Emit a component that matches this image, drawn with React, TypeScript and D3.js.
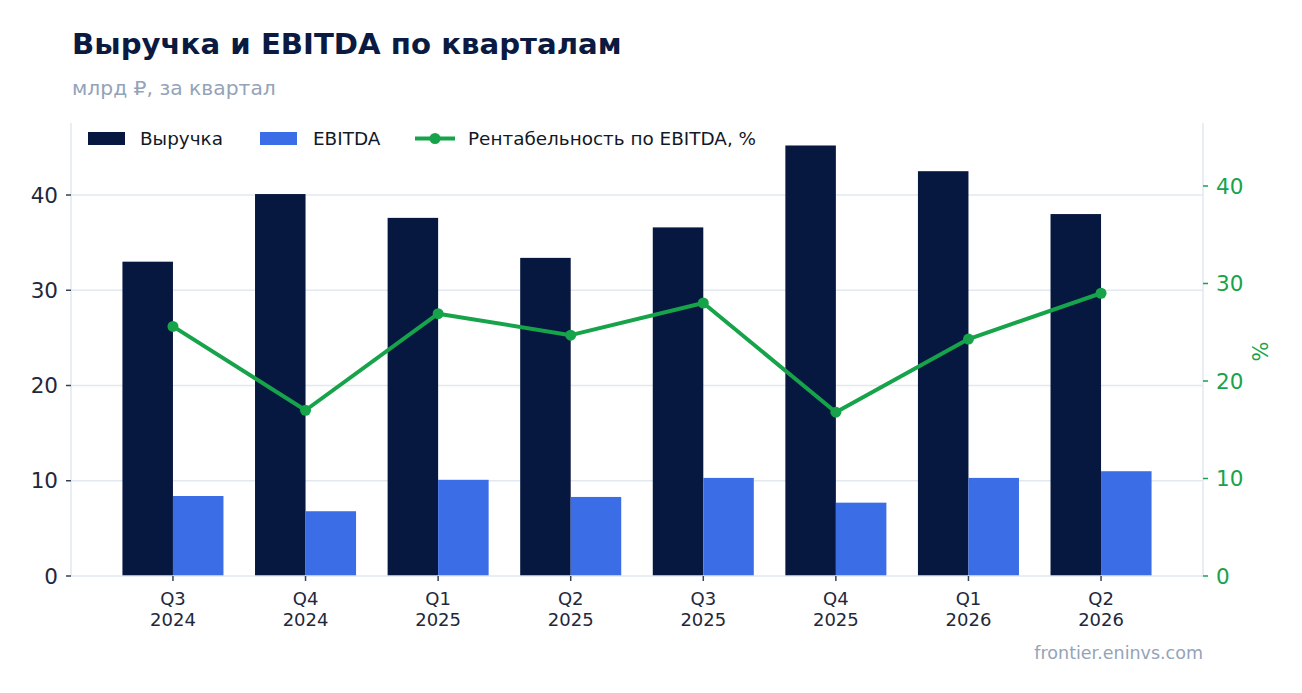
import { useEffect, useRef } from 'react'
import * as d3 from 'd3'

const quarters = ['Q3|2024', 'Q4|2024', 'Q1|2025', 'Q2|2025', 'Q3|2025', 'Q4|2025', 'Q1|2026', 'Q2|2026']
const revenue = [33.0, 40.1, 37.6, 33.4, 36.6, 45.2, 42.5, 38.0]
const ebitda = [8.4, 6.8, 10.1, 8.3, 10.3, 7.7, 10.3, 11.0]
const margin = [25.6, 17.0, 26.9, 24.7, 28.0, 16.8, 24.3, 29.0]
const leftTicks = [0, 10, 20, 30, 40]
const rightTicks = [0, 10, 20, 30, 40]

const W = 1302
const H = 693
const FONT = 'DejaVu Sans, sans-serif'
const NAVY = '#061740'
const BLUE = '#3b6ee6'
const GREEN = '#16a34a'
const GRID = '#e2e8f0'
const MUTED = '#94a3b8'

export default function App() {
  const svgRef = useRef<SVGSVGElement>(null)

  useEffect(() => {
    if (!svgRef.current) return
    const svg = d3.select(svgRef.current)
    svg.selectAll('*').remove()

    const plot = { left: 71, right: 1203, top: 123, bottom: 576 }

    const x = d3.scaleBand<string>()
      .domain(quarters)
      .range([plot.left, plot.right])
      .paddingInner(0.238)
      .paddingOuter(0.388)
    const sub = d3.scaleBand<string>()
      .domain(['rev', 'ebitda'])
      .range([0, x.bandwidth()])
    const y = d3.scaleLinear().domain([0, 47.56]).range([plot.bottom, plot.top])
    const y2 = d3.scaleLinear().domain([0, 46.46]).range([plot.bottom, plot.top])

    // grid
    svg.append('g')
      .selectAll('line')
      .data(leftTicks.filter(t => t > 0))
      .enter()
      .append('line')
      .attr('x1', plot.left)
      .attr('x2', plot.right)
      .attr('y1', d => y(d))
      .attr('y2', d => y(d))
      .attr('stroke', GRID)
      .attr('stroke-width', 1.5)

    // bars
    const groups = svg.append('g')
      .selectAll('g')
      .data(quarters)
      .enter()
      .append('g')
      .attr('transform', d => `translate(${x(d)},0)`)

    groups.append('rect')
      .attr('x', sub('rev')!)
      .attr('width', sub.bandwidth())
      .attr('y', (_, i) => y(revenue[i]))
      .attr('height', (_, i) => y(0) - y(revenue[i]))
      .attr('fill', NAVY)

    groups.append('rect')
      .attr('x', sub('ebitda')!)
      .attr('width', sub.bandwidth())
      .attr('y', (_, i) => y(ebitda[i]))
      .attr('height', (_, i) => y(0) - y(ebitda[i]))
      .attr('fill', BLUE)

    // spines
    const spines = svg.append('g').attr('stroke', GRID).attr('stroke-width', 1.5)
    spines.append('line').attr('x1', plot.left).attr('x2', plot.left).attr('y1', plot.top).attr('y2', plot.bottom)
    spines.append('line').attr('x1', plot.right).attr('x2', plot.right).attr('y1', plot.top).attr('y2', plot.bottom)
    spines.append('line').attr('x1', plot.left).attr('x2', plot.right).attr('y1', plot.bottom).attr('y2', plot.bottom)

    // margin line
    const cx = (d: string) => x(d)! + x.bandwidth() / 2
    const line = d3.line<number>()
      .x((_, i) => cx(quarters[i]))
      .y(d => y2(d))
    svg.append('path')
      .datum(margin)
      .attr('d', line)
      .attr('fill', 'none')
      .attr('stroke', GREEN)
      .attr('stroke-width', 4)
      .attr('stroke-linejoin', 'round')
    svg.append('g')
      .selectAll('circle')
      .data(margin)
      .enter()
      .append('circle')
      .attr('cx', (_, i) => cx(quarters[i]))
      .attr('cy', d => y2(d))
      .attr('r', 5.5)
      .attr('fill', GREEN)

    // left axis
    const left = svg.append('g')
    leftTicks.forEach(t => {
      left.append('line')
        .attr('x1', plot.left - 5).attr('x2', plot.left)
        .attr('y1', y(t)).attr('y2', y(t))
        .attr('stroke', '#334155').attr('stroke-width', 1.5)
      left.append('text')
        .attr('x', plot.left - 13)
        .attr('y', y(t))
        .attr('dy', '0.36em')
        .attr('text-anchor', 'end')
        .style('font-family', FONT)
        .style('font-size', '21.5px')
        .style('fill', '#1e293b')
        .text(t)
    })

    // right axis
    const right = svg.append('g')
    rightTicks.forEach(t => {
      right.append('line')
        .attr('x1', plot.right).attr('x2', plot.right + 5)
        .attr('y1', y2(t)).attr('y2', y2(t))
        .attr('stroke', GREEN).attr('stroke-width', 1.5)
      right.append('text')
        .attr('x', plot.right + 13)
        .attr('y', y2(t))
        .attr('dy', '0.36em')
        .style('font-family', FONT)
        .style('font-size', '21.5px')
        .style('fill', GREEN)
        .text(t)
    })
    svg.append('text')
      .attr('transform', `translate(1268,${(plot.top + plot.bottom) / 2 + 2}) rotate(-90)`)
      .attr('text-anchor', 'middle')
      .style('font-family', FONT)
      .style('font-size', '21px')
      .style('fill', GREEN)
      .text('%')

    // x axis
    const bottom = svg.append('g')
    quarters.forEach(q => {
      const [qq, yr] = q.split('|')
      bottom.append('line')
        .attr('x1', cx(q)).attr('x2', cx(q))
        .attr('y1', plot.bottom).attr('y2', plot.bottom + 5)
        .attr('stroke', '#334155').attr('stroke-width', 1.5)
      const t = bottom.append('text')
        .attr('text-anchor', 'middle')
        .style('font-family', FONT)
        .style('font-size', '18px')
        .style('fill', '#1e293b')
      t.append('tspan').attr('x', cx(q)).attr('y', 605).text(qq)
      t.append('tspan').attr('x', cx(q)).attr('y', 626).text(yr)
    })

    // legend
    const lg = svg.append('g').style('font-family', FONT).style('font-size', '18.4px').style('fill', '#111827')
    lg.append('rect').attr('x', 88).attr('y', 132).attr('width', 37).attr('height', 13).attr('fill', NAVY)
    lg.append('text').attr('x', 140).attr('y', 145).text('Выручка')
    lg.append('rect').attr('x', 260).attr('y', 132).attr('width', 37).attr('height', 13).attr('fill', BLUE)
    lg.append('text').attr('x', 313).attr('y', 145).text('EBITDA')
    lg.append('line').attr('x1', 415).attr('x2', 455).attr('y1', 138.5).attr('y2', 138.5)
      .attr('stroke', GREEN).attr('stroke-width', 4)
    lg.append('circle').attr('cx', 435).attr('cy', 138.5).attr('r', 5.5).attr('fill', GREEN)
    lg.append('text').attr('x', 468).attr('y', 145).text('Рентабельность по EBITDA, %')

    // titles
    svg.append('text')
      .attr('x', 72).attr('y', 54)
      .style('font-family', FONT)
      .style('font-size', '29.2px')
      .style('font-weight', 'bold')
      .style('fill', '#0b1a40')
      .text('Выручка и EBITDA по кварталам')
    svg.append('text')
      .attr('x', 72).attr('y', 95)
      .style('font-family', FONT)
      .style('font-size', '20.3px')
      .style('fill', MUTED)
      .text('млрд ₽, за квартал')
    svg.append('text')
      .attr('x', plot.right).attr('y', 659)
      .attr('text-anchor', 'end')
      .style('font-family', FONT)
      .style('font-size', '17.5px')
      .style('fill', MUTED)
      .text('frontier.eninvs.com')
  }, [])

  return (
    <svg
      ref={svgRef}
      width={W}
      height={H}
      style={{ position: 'absolute', left: 0, top: 0, background: '#fff' }}
    />
  )
}
